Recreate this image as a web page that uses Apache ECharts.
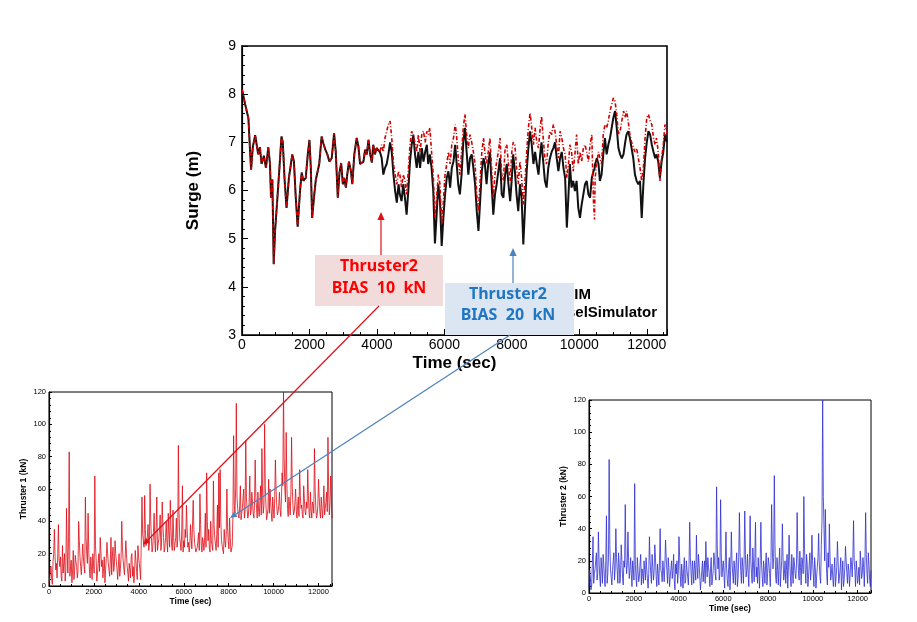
<!DOCTYPE html>
<html>
<head>
<meta charset="utf-8">
<script src="https://cdn.jsdelivr.net/npm/echarts@6/dist/echarts.min.js"></script>
<style>
html,body{margin:0;padding:0;background:#fff;}
#c{width:917px;height:622px;}
</style>
</head>
<body>
<div id="c"></div>
<script>
// ---------- Surge (top chart) ----------
const surgeTime = [0,90,190,240,270,320,390,440,480,530,580,650,710,780,830,860,900,940,980,1050,
1110,1170,1210,1260,1320,1390,1440,1490,1540,1590,1650,1720,1770,1820,1890,1950,2000,2040,2080,2140,
2190,2240,2290,2360,2410,2470,2530,2590,2660,2730,2780,2840,2890,2940,2990,3030,3080,3120,3170,3230,
3270,3330,3400,3450,3500,3550,3600,3650,3700,3750,3800,3850,3890,3940,3990,4040,4090,
4140,4190,4240,4290,4340,4390,4440,4490,4540,4590,4640,4680,4730,4780,4830,4880,4930,4980,5030,5080,
5130,5180,5230,5280,5330,5380,5430,5480,5520,5570,5620,5670,5720,5770,5820,5870,5920,5970,6020,6070,
6120,6170,6220,6270,
6320,6360,6410,6460,6510,6560,6610,6660,6710,6760,6810,6860,6910,6960,7010,7060,7110,7160,7200,7250,
7300,7350,7400,7450,7500,7550,7600,7650,7700,7750,7800,7850,7900,7950,8000,8040,8090,8140,8190,8240,
8290,8340,8390,8440,8490,8540,8590,8640,8690,8740,8790,8840,8880,8930,8980,9030,9080,9130,9180,9230,
9280,9330,9380,
9430,9480,9530,9580,9630,9680,9720,9770,9820,9870,9920,9970,10020,10070,10120,10170,10220,10270,10320,10370,
10420,10450,10470,10520,10570,10610,10660,10710,10760,10810,10860,10910,10960,11010,11060,11110,11160,11210,11260,11310,
11360,11400,11450,11500,11550,11600,11650,11700,11750,11800,11850,11900,11950,12000,12050,12100,12150,12200,12250,12290,
12340,12390,12440,12490,12540,12600];

const surgeBlack = [8.1,7.8,7.5,6.8,6.43,6.9,7.15,7.15,6.75,6.9,6.55,6.72,6.47,6.9,6.55,5.85,6.23,4.47,5.15,5.85,
6.47,7.12,7.0,6.26,5.64,6.26,6.5,6.75,6.6,5.9,5.25,5.99,6.37,6.2,6.26,6.75,7.05,6.47,5.43,5.9,
6.23,6.2,6.55,7.12,6.98,6.85,6.75,6.6,6.67,7.19,6.8,5.85,6.37,6.57,6.13,6.26,6.06,6.33,6.6,6.4,
6.13,6.75,7.09,6.92,6.55,6.58,6.6,6.85,6.75,7.05,6.75,6.58,6.95,6.75,6.88,6.85,6.8,
6.68,6.33,6.47,6.55,6.75,7.0,6.8,6.33,5.99,5.75,6.13,5.92,5.78,6.13,5.85,5.5,5.99,6.6,6.95,7.16,
6.75,6.47,6.8,6.47,6.88,6.6,6.8,6.95,6.55,6.75,6.47,5.99,4.9,5.5,6.13,5.78,4.85,5.43,5.92,6.26,
6.4,6.06,6.47,6.6,
6.95,6.6,6.13,5.92,6.33,7.0,7.3,6.8,6.33,6.67,6.75,6.47,6.13,5.57,5.16,5.78,6.4,6.67,6.55,6.13,
6.55,6.8,6.13,5.5,5.92,6.13,6.4,6.67,5.92,5.85,6.33,6.55,6.13,5.78,6.26,6.75,6.4,5.92,5.57,6.13,
5.85,4.88,5.64,6.4,6.88,7.23,6.95,6.55,6.8,6.55,6.33,6.75,7.0,6.6,6.2,6.06,6.47,6.67,6.8,6.88,
7.0,6.67,6.4,
6.67,6.8,6.47,6.26,5.23,5.92,6.55,6.06,6.2,5.99,6.2,5.64,5.43,5.71,5.92,6.13,6.2,5.92,5.85,6.26,
6.4,6.45,6.55,6.67,6.55,6.2,6.33,6.75,7.09,6.75,6.95,7.09,7.3,7.51,7.65,7.3,6.88,6.75,6.67,6.75,
7.0,7.16,7.23,7.09,6.88,6.67,6.33,6.2,6.13,6.2,5.43,6.13,6.67,7.0,7.23,7.16,6.95,6.8,6.67,6.75,
6.6,6.26,6.6,6.8,7.16,7.0];

const surgeRed = [8.1,7.8,7.5,6.8,6.43,6.9,7.15,7.15,6.75,6.9,6.55,6.72,6.47,6.9,6.55,5.85,6.23,4.47,5.15,5.85,
6.47,7.12,7.0,6.26,5.64,6.26,6.5,6.75,6.6,5.9,5.25,5.99,6.37,6.2,6.26,6.75,7.05,6.47,5.43,5.9,
6.23,6.2,6.55,7.12,6.98,6.85,6.75,6.6,6.67,7.19,6.8,5.85,6.37,6.57,6.13,6.26,6.06,6.33,6.6,6.4,
6.13,6.75,7.09,6.92,6.55,6.58,6.6,6.85,6.75,7.05,6.75,6.58,6.95,6.75,6.88,6.85,6.8,
6.95,6.8,7.09,7.23,7.37,7.44,7.09,6.55,6.33,6.13,6.4,6.33,6.06,6.33,6.2,5.92,6.4,6.95,7.23,7.26,
7.0,6.8,7.16,6.8,7.16,7.23,7.0,7.23,7.16,7.3,6.8,6.33,5.43,5.85,6.33,6.13,5.3,5.78,6.33,6.55,
6.8,6.55,6.95,7.09,
7.37,7.16,6.67,6.33,6.8,7.3,7.58,7.16,6.88,7.16,7.0,6.8,6.55,5.92,5.57,6.2,6.8,7.09,6.8,6.55,
6.8,7.09,6.47,5.85,6.33,6.6,6.8,7.09,6.33,6.2,6.88,6.95,6.55,6.2,6.8,7.0,6.95,6.47,6.13,6.6,
6.26,5.71,6.2,6.8,7.3,7.61,7.3,6.95,7.3,7.0,6.88,7.3,7.54,7.09,6.67,6.55,7.0,7.23,7.16,7.37,
7.23,6.95,6.67,
7.23,7.09,6.88,6.75,6.26,6.55,6.95,6.8,6.4,6.75,7.16,6.55,6.8,6.6,6.88,6.95,6.8,6.6,6.95,7.16,
5.78,5.4,6.26,6.6,6.8,6.67,6.55,7.16,7.37,7.3,7.44,7.65,7.78,7.92,7.85,7.58,7.16,7.23,7.44,7.65,
7.51,7.65,7.44,7.16,7.0,7.0,6.8,6.88,6.67,6.47,6.2,6.47,7.09,7.51,7.58,7.44,7.37,7.09,6.95,7.09,
6.8,6.2,6.67,6.95,7.37,7.2];

// ---------- Thruster records: samples at 0,60,120,... s and in-between samples at 30,90,150,... s ----------
const thrStep = 60;
const thruster1 = [2,8,4,15,35,10,5,38,12,6,25,14,3,48,8,83,12,2,22,9,
15,5,40,18,7,26,12,55,20,45,10,18,4,14,68,16,8,20,30,12,
5,18,10,27,14,6,30,18,9,28,15,4,20,11,40,16,7,28,12,3,
10,18,6,2,22,9,25,14,4,55,28,56,25,30,22,63,30,24,45,21,
55,26,35,22,52,30,24,40,21,32,53,25,47,22,30,24,87,30,22,62,
28,35,50,24,21,38,23,53,27,21,24,33,57,25,30,22,45,70,28,23,
40,25,65,30,22,50,70,72,28,22,35,24,60,28,42,21,25,93,45,113,
48,42,62,45,55,42,90,48,44,68,46,52,42,78,48,58,43,62,85,45,
100,50,44,66,60,45,55,42,78,50,46,58,43,70,120,60,95,48,55,44,
92,50,46,60,42,55,72,48,44,62,46,52,72,45,58,42,50,85,48,44,
66,46,55,42,62,48,58,92,44,68,42];
const thruster1Mid = [5,12,1,20,18,14,20,16,18,3,8,20,10,22,30,6,16,10,4,19,
12,9,28,12,16,18,8,30,14,22,5,12,20,8,25,3,14,9,22,16,
11,2,17,20,10,15,7,24,13,20,10,13,6,18,24,11,17,20,8,14,
5,20,12,8,16,4,18,10,3,32,24,35,27,38,26,40,21,33,28,36,
22,29,44,26,38,21,30,27,45,24,36,22,30,26,42,28,45,26,34,21,
24,30,36,27,25,30,22,35,24,20,28,22,38,21,27,30,24,40,35,21,
28,22,38,26,32,24,36,40,25,20,28,32,36,23,30,20,45,50,60,55,
44,50,41,48,60,46,55,42,52,44,58,45,50,55,42,47,52,44,56,50,
62,41,48,45,52,40,48,54,60,44,50,47,55,62,80,52,64,43,50,58,
62,44,52,47,50,43,56,50,42,54,44,48,56,42,47,52,45,60,42,50,
55,42,48,50,44,52,46,60,50,55];

const thruster2 = [3,10,5,35,12,20,8,38,10,22,6,18,4,48,12,83,15,5,20,8,
40,14,25,6,30,10,20,55,12,38,9,22,4,15,68,10,22,7,18,5,
12,20,8,15,3,35,12,24,8,30,10,18,5,40,12,20,7,33,14,22,
4,15,9,24,2,12,6,35,10,18,3,22,8,14,5,44,12,20,6,15,
36,9,18,2,14,7,20,32,10,16,4,22,9,25,12,66,15,8,58,10,
20,3,38,8,16,2,38,12,20,5,25,9,50,14,22,6,51,10,24,4,
48,12,28,7,44,16,22,3,44,10,20,6,25,12,18,4,55,15,73,10,
22,5,28,12,43,8,20,14,3,36,10,24,6,18,9,50,12,26,5,20,
60,14,24,4,18,8,36,12,22,3,16,37,10,30,120,40,52,12,25,43,
8,18,4,22,10,32,6,15,2,20,8,29,12,18,4,22,10,45,14,20,
6,16,26,9,22,4,50,12,25,8,14];
const thruster2Mid = [14,2,18,6,15,25,12,20,4,15,24,9,20,6,22,30,10,14,25,15,
22,6,18,12,20,5,16,22,18,20,14,12,20,8,18,4,14,10,24,15,
6,14,22,9,12,20,6,16,14,22,4,12,20,15,7,14,18,22,6,16,
10,20,14,8,18,20,13,22,4,12,15,6,20,10,18,22,5,14,20,8,
16,24,10,8,20,14,6,18,22,12,15,5,14,20,8,30,22,12,25,16,
12,20,15,4,22,14,20,6,15,18,4,22,25,6,16,20,24,14,12,22,
20,6,18,22,10,6,14,20,18,4,14,18,5,22,12,20,28,22,30,6,
14,18,4,20,22,12,6,24,16,20,4,14,22,12,18,24,8,16,22,12,
28,6,18,10,25,14,20,4,16,10,22,18,6,45,60,20,28,5,16,22,
12,10,14,4,16,20,10,22,12,4,16,20,6,14,12,18,22,20,4,14,
10,5,18,12,16,20,24,6,18,4];

// ---------- tick settings ----------
const surgeTicks = {min:3, max:9, interval:1};
const timeTicks = {min:0, max:12600, interval:2000};
const thrTicks = {min:0, max:120, interval:20};

const surgeBlackData = surgeTime.map((t,i)=>[t, surgeBlack[i]]);
const surgeRedData = surgeTime.map((t,i)=>[t, surgeRed[i]]);
function mergeRecord(main, mid){
  const out = [];
  main.forEach((v,i)=>{
    out.push([i*thrStep, v]);
    if (i < mid.length && i < main.length-1) out.push([i*thrStep + thrStep/2, mid[i]]);
  });
  return out;
}
const thr1Data = mergeRecord(thruster1, thruster1Mid);
const thr2Data = mergeRecord(thruster2, thruster2Mid);

const F = '"Liberation Sans", Arial, sans-serif';
const plain = v => String(v);

function xAx(gi, fs, nameFs, gap, lm){
  return {
    type:'value', gridIndex:gi, min:timeTicks.min, max:timeTicks.max, interval:timeTicks.interval,
    name:'Time (sec)', nameLocation:'middle', nameGap:gap,
    nameTextStyle:{fontFamily:F, fontWeight:'bold', fontSize:nameFs, color:'#000'},
    axisLine:{show:true, onZero:false, lineStyle:{color:'#000', width:1.2}},
    axisTick:{show:true, inside:true, length: gi===0?6:3, lineStyle:{color:'#000'}},
    minorTick:{show:true, splitNumber:4, length: gi===0?3:2, lineStyle:{color:'#000'}},
    splitLine:{show:false},
    axisLabel:{fontFamily:F, fontSize:fs, color:'#000', margin:lm, formatter:plain}
  };
}
function yAx(gi, ticks, name, fs, nameFs, gap, lm){
  return {
    type:'value', gridIndex:gi, min:ticks.min, max:ticks.max, interval:ticks.interval,
    name:name, nameLocation:'middle', nameGap:gap,
    nameTextStyle:{fontFamily:F, fontWeight:'bold', fontSize:nameFs, color:'#000'},
    axisLine:{show:true, lineStyle:{color:'#000', width:1.2}},
    axisTick:{show:true, inside:true, length: gi===0?6:3, lineStyle:{color:'#000'}},
    minorTick:{show:true, splitNumber:5, length: gi===0?3:2, lineStyle:{color:'#000'}},
    splitLine:{show:false},
    axisLabel:{fontFamily:F, fontSize:fs, color:'#000', margin:lm, formatter:plain}
  };
}

function arrow(x1,y1,x2,y2,color,w,head){
  const ang = Math.atan2(y2-y1, x2-x1);
  const L = head, Wd = head*0.45;
  const bx = x2 - L*Math.cos(ang), by = y2 - L*Math.sin(ang);
  const px = -Math.sin(ang)*Wd, py = Math.cos(ang)*Wd;
  return [
    {type:'line', z:100, shape:{x1:x1,y1:y1,x2:bx,y2:by}, style:{stroke:color, lineWidth:w}},
    {type:'polygon', z:100, shape:{points:[[x2,y2],[bx+px,by+py],[bx-px,by-py]]}, style:{fill:color}}
  ];
}

const annoFont = 'bold 16px "Noto Sans", "Liberation Sans", sans-serif';
const legFont = 'bold 15px "Liberation Sans", Arial, sans-serif';

const graphics = [
  // legend text (partly hidden by the blue label box)
  {type:'text', z:90, style:{text:'SIM', x:591, y:295, fill:'#000', font:legFont, align:'right', verticalAlign:'middle'}},
  {type:'text', z:90, style:{text:'VesselSimulator', x:657, y:313, fill:'#000', font:legFont, align:'right', verticalAlign:'middle'}},
  // pink label
  {type:'rect', z:95, shape:{x:315, y:255, width:128, height:51}, style:{fill:'#f2dcdb'}},
  {type:'text', z:96, style:{text:'Thruster2', x:379, y:266, fill:'#ff0000', font:annoFont, align:'center', verticalAlign:'middle'}},
  {type:'text', z:96, style:{text:'BIAS  10  kN', x:379, y:288, fill:'#ff0000', font:annoFont, align:'center', verticalAlign:'middle'}},
  // blue label
  {type:'rect', z:95, shape:{x:445, y:283, width:129, height:52}, style:{fill:'#dce6f2'}},
  {type:'text', z:96, style:{text:'Thruster2', x:508, y:294, fill:'#1f77c4', font:annoFont, align:'center', verticalAlign:'middle'}},
  {type:'text', z:96, style:{text:'BIAS  20  kN', x:508, y:315, fill:'#1f77c4', font:annoFont, align:'center', verticalAlign:'middle'}},
].concat(
  arrow(381,255,381,212,'#e0101a',1.2,8),
  arrow(513,283,513,248,'#4f81bd',1.2,8),
  arrow(379,306,143,545,'#e0101a',1.2,7),
  arrow(510,335,230,518,'#4f81bd',1.2,7)
);

const chart = echarts.init(document.getElementById('c'), null, {renderer:'canvas'});
chart.setOption({
  animation:false,
  backgroundColor:'#fff',
  grid:[
    {left:242, top:46, width:425, height:289, show:true, borderColor:'#000', borderWidth:1.6, backgroundColor:'transparent'},
    {left:49, top:392, width:283, height:194, show:true, borderColor:'#000', borderWidth:1, backgroundColor:'transparent'},
    {left:589, top:400, width:282, height:193, show:true, borderColor:'#000', borderWidth:1, backgroundColor:'transparent'}
  ],
  xAxis:[ xAx(0,14,17,20,3), xAx(1,7.5,8.5,9,2), xAx(2,7.5,8.5,9.5,2) ],
  yAxis:[ yAx(0,surgeTicks,'Surge (m)',14,17,40,6), yAx(1,thrTicks,'Thruster 1 (kN)',7.5,8.5,21,3), yAx(2,thrTicks,'Thruster 2 (kN)',7.5,8.5,21,3) ],
  series:[
    {type:'line', xAxisIndex:0, yAxisIndex:0, data:surgeBlackData, symbol:'none', lineStyle:{color:'#111', width:2}},
    {type:'line', xAxisIndex:0, yAxisIndex:0, data:surgeRedData, symbol:'none', lineStyle:{color:'#d00000', width:1.6, type:[4,2,1,2]}},
    {type:'line', xAxisIndex:1, yAxisIndex:1, data:thr1Data, symbol:'none', lineStyle:{color:'#dd0a14', width:0.8}},
    {type:'line', xAxisIndex:2, yAxisIndex:2, data:thr2Data, symbol:'none', lineStyle:{color:'#2e2ed0', width:0.8}}
  ],
  graphic:graphics
});
</script>
</body>
</html>
